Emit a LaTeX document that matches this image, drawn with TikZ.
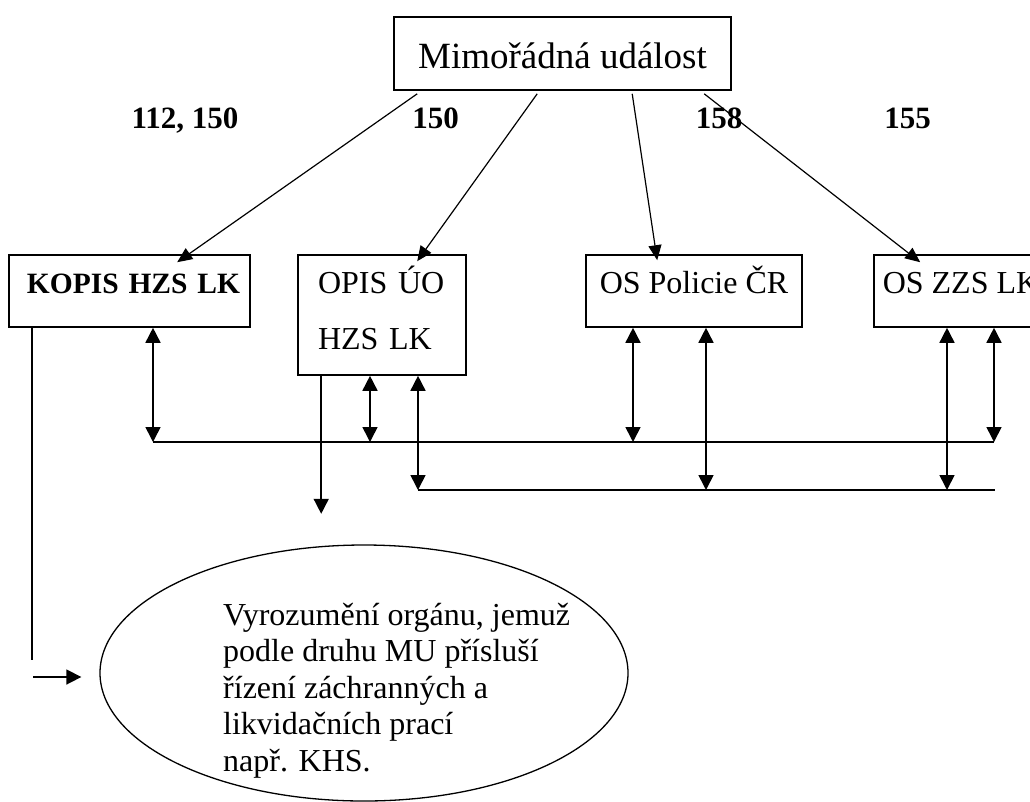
\documentclass[tikz,border=0pt]{standalone}
\usepackage{fontspec}
\setmainfont{Liberation Serif}
\usetikzlibrary{shapes.geometric, arrows.meta, positioning}
\tikzstyle{event} = [rectangle, draw=black, line width=1.6pt, minimum width=337pt, inner sep=0pt, text height=51pt, text depth=22pt, font=\fontsize{37}{44}\selectfont]
\tikzstyle{unit} = [rectangle, draw=black, line width=1.6pt, inner sep=0pt, text height=38pt, text depth=34pt, font=\fontsize{32}{38}\selectfont]
\tikzstyle{number} = [anchor=base, inner sep=0pt, font=\fontsize{31}{37}\selectfont\bfseries]
\tikzstyle{authority} = [ellipse, draw=black, line width=1.3pt, minimum width=528pt, minimum height=256pt, inner sep=0pt]
\tikzstyle{call} = [draw=black, line width=1.2pt, -{Triangle[length=15pt, width=13pt]}]
\tikzstyle{notify} = [draw=black, line width=1.6pt, -{Triangle[length=15pt, width=15pt]}]
\tikzstyle{duplex} = [draw=black, line width=1.6pt, {Triangle[length=15pt, width=15pt]}-{Triangle[length=15pt, width=15pt]}]
\tikzstyle{bus} = [draw=black, line width=1.6pt]

\begin{document}
\begin{tikzpicture}[x=1pt, y=-1pt]
\useasboundingbox (0,0) rectangle (1030,801);
\clip (0,0) rectangle (1030,801);

% Emergency event
\node (event) [event] at (562.5,53.5) {Mimořádná událost};

% Emergency numbers
\node (n112) [number] at (185,128) {112, 150};
\node (n150) [number] at (435.5,128) {150};
\node (n158) [number] at (719,128) {158};
\node (n155) [number] at (907.5,128) {155};

% Dispatch centres
\node (kopis) [unit, minimum width=241pt, text width=221pt, inner xsep=10pt, align=right, font=\fontsize{29.5}{35}\selectfont\bfseries] at (129.5,291) {KOPIS HZS LK};
\node (opis) [unit, text width=128pt, inner xsep=20pt, align=left, text depth=82pt, font=\fontsize{32}{56}\selectfont] at (382,315) {OPIS ÚO\\HZS LK};
\node (policie) [unit, minimum width=216pt] at (694,291) {OS Policie ČR};
\node (zzs) [unit, minimum width=174pt] at (961,291) {OS ZZS LK};

% Notified authority
\node (mu) [authority] at (364,673) {};
\node (mutext) [anchor=base west, align=left, inner sep=0pt, font=\fontsize{32}{36.5}\selectfont] at (223,771) {Vyrozumění orgánu, jemuž\\podle druhu MU přísluší\\řízení záchranných a\\likvidačních prací\\např. KHS.};

% Calls from the event
\draw [call] ([xshift=24pt, yshift=-3pt]event.south west) -- ([xshift=169pt, yshift=-8pt]kopis.north west);
\draw [call] ([xshift=144pt, yshift=-3pt]event.south west) -- ([xshift=120pt, yshift=-7pt]opis.north west);
\draw [call] ([xshift=239pt, yshift=-3pt]event.south west) -- ([xshift=72pt, yshift=-6pt]policie.north west);
\draw [call] ([xshift=311pt, yshift=-3pt]event.south west) -- ([xshift=47pt, yshift=-8pt]zzs.north west);

% Lines between centres
\coordinate (a1) at (153,442);
\coordinate (a2) at (370,442);
\coordinate (a3) at (633,442);
\coordinate (a4) at (994,442);
\coordinate (b1) at (418,490);
\coordinate (b2) at (706,490);
\coordinate (b3) at (947,490);
\coordinate (b4) at (995,490);
\draw [bus] (a1) -- (a4);
\draw [bus] (b1) -- (b4);
\foreach \src/\tap in {kopis/a1, opis/a2, opis/b1, policie/a3, policie/b2, zzs/b3, zzs/a4}
  \draw [duplex] (\src.south -| \tap) -- (\tap);

% Notification
\draw [notify] ([xshift=24pt]opis.south west) -- ++(0,138);
\draw [bus] ([xshift=24pt]kopis.south west) -- ++(0,332);
\coordinate (fork) at (33,677);
\draw [notify] (fork) -- ([xshift=-18pt, yshift=-4pt]mu.west);

\end{tikzpicture}
\end{document}
